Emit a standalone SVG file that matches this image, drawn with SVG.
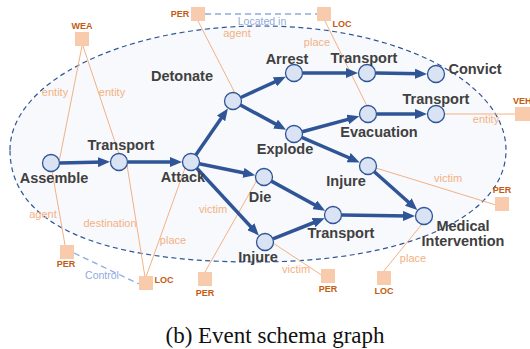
<svg xmlns="http://www.w3.org/2000/svg" width="530" height="349" viewBox="0 0 530 349">
<defs>
<marker id="arr" viewBox="0 0 12 10" refX="6" refY="5" markerWidth="12" markerHeight="10" markerUnits="userSpaceOnUse" orient="auto">
<path d="M0,0 L12,5 L0,10 z" fill="#2f5597"/>
</marker>
<style>
.ev{fill:#dae3f3;stroke:#2f5597;stroke-width:1.3}
.evt{font-family:"Liberation Sans",Arial,sans-serif;font-weight:bold;font-size:14.5px;fill:#404040;text-anchor:middle}
.box{fill:#f8cbad}
.bt{font-family:"Liberation Sans",Arial,sans-serif;font-weight:bold;font-size:9px;fill:#c55a11;text-anchor:middle}
.rl{stroke:#f4b183;stroke-width:1;fill:none}
.rt{font-family:"Liberation Sans",Arial,sans-serif;font-size:11px;fill:#f4b183;text-anchor:middle}
.ar{stroke:#2f5597;stroke-width:3.5;fill:none;marker-end:url(#arr)}
.dl{stroke:#8faadc;stroke-width:1.3;stroke-dasharray:6,4;fill:none}
.dt{font-family:"Liberation Sans",Arial,sans-serif;font-size:10.5px;fill:#8faadc;text-anchor:middle}
</style>
</defs>
<rect width="530" height="349" fill="#ffffff"/>
<path id="schema-boundary" d="M10,150 C10,82 123,26 262,26 C397,26 506,82 506,150 C506,217 406,262 255,262 C96,262 10,223 10,150 Z" fill="#f7f9fc" stroke="#2f5597" stroke-width="1.2" stroke-dasharray="5,3.5"/>
<g id="connectors">
<line class="rl" x1="82" y1="46" x2="59" y2="162"/>
<line class="rl" x1="83" y1="46" x2="119" y2="154"/>
<line class="rl" x1="52" y1="171" x2="65" y2="245"/>
<line class="rl" x1="127" y1="165" x2="145" y2="277"/>
<line class="rl" x1="185" y1="168" x2="146" y2="277"/>
<line class="rl" x1="257" y1="180" x2="205" y2="272"/>
<line class="rl" x1="273" y1="243" x2="323" y2="276"/>
<line class="rl" x1="422" y1="224" x2="383" y2="272"/>
<line class="rl" x1="376" y1="168" x2="496" y2="205"/>
<line class="rl" x1="198" y1="21" x2="236" y2="95"/>
<line class="rl" x1="325" y1="21" x2="367" y2="106"/>
<line class="rl" x1="445" y1="114" x2="515" y2="114"/>
<text class="rt" x="55" y="96">entity</text>
<text class="rt" x="112" y="96">entity</text>
<text class="rt" x="43" y="218">agent</text>
<text class="rt" x="110" y="227">destination</text>
<text class="rt" x="173" y="244">place</text>
<text class="rt" x="213" y="213">victim</text>
<text class="rt" x="296" y="273">victim</text>
<text class="rt" x="413" y="262">place</text>
<text class="rt" x="448" y="182">victim</text>
<text class="rt" x="237" y="37">agent</text>
<text class="rt" x="317" y="46">place</text>
<text class="rt" x="486" y="123">entity</text>
<line class="dl" x1="205" y1="14" x2="317" y2="14"/>
<text class="dt" x="262" y="25">Located in</text>
<line class="dl" x1="74" y1="253" x2="139" y2="284"/>
<text class="dt" x="102" y="279">Control</text>
<line class="ar" x1="60" y1="163" x2="104" y2="162"/>
<line class="ar" x1="128" y1="162" x2="176" y2="162"/>
<line class="ar" x1="195.8" y1="155" x2="224.5" y2="113.4"/>
<line class="ar" x1="240.7" y1="97.5" x2="280.4" y2="79.3"/>
<line class="ar" x1="240.5" y1="105" x2="280.8" y2="126.9"/>
<line class="ar" x1="302.5" y1="73" x2="352" y2="73"/>
<line class="ar" x1="375.5" y1="73.1" x2="421" y2="73.8"/>
<line class="ar" x1="302.2" y1="131.8" x2="353.5" y2="117.9"/>
<line class="ar" x1="301.8" y1="137.4" x2="354.2" y2="160"/>
<line class="ar" x1="376.5" y1="114" x2="421" y2="114"/>
<line class="ar" x1="199.3" y1="163.7" x2="249.3" y2="174"/>
<line class="ar" x1="196.8" y1="168.2" x2="254.8" y2="231"/>
<line class="ar" x1="271.4" y1="181.1" x2="319.9" y2="207.8"/>
<line class="ar" x1="272.9" y1="238.9" x2="319.1" y2="220.5"/>
<line class="ar" x1="341.5" y1="215.1" x2="409" y2="216"/>
<line class="ar" x1="374.3" y1="171.7" x2="412.8" y2="206"/>
</g>
<g id="assemble"><circle class="ev" cx="51" cy="163" r="8.5"/><text class="evt" x="54" y="183">Assemble</text></g>
<g id="transport1"><circle class="ev" cx="119" cy="162" r="8.5"/><text class="evt" x="121" y="150">Transport</text></g>
<g id="attack"><circle class="ev" cx="191" cy="162" r="8.5"/><text class="evt" x="183" y="182">Attack</text></g>
<g id="detonate"><circle class="ev" cx="233" cy="101" r="8.5"/><text class="evt" x="182" y="81">Detonate</text></g>
<g id="arrest"><circle class="ev" cx="294" cy="73" r="8.5"/><text class="evt" x="287" y="64">Arrest</text></g>
<g id="transport2"><circle class="ev" cx="367" cy="73" r="8.5"/><text class="evt" x="364" y="63">Transport</text></g>
<g id="convict"><circle class="ev" cx="436" cy="74" r="8.5"/><text class="evt" x="475" y="74">Convict</text></g>
<g id="explode"><circle class="ev" cx="294" cy="134" r="8.5"/><text class="evt" x="285" y="154">Explode</text></g>
<g id="evacuation"><circle class="ev" cx="368" cy="114" r="8.5"/><text class="evt" x="379" y="137">Evacuation</text></g>
<g id="transport3"><circle class="ev" cx="436" cy="114" r="8.5"/><text class="evt" x="436" y="104">Transport</text></g>
<g id="injure1"><circle class="ev" cx="368" cy="166" r="8.5"/><text class="evt" x="346" y="186">Injure</text></g>
<g id="die"><circle class="ev" cx="264" cy="177" r="8.5"/><text class="evt" x="260" y="202">Die</text></g>
<g id="injure2"><circle class="ev" cx="265" cy="242" r="8.5"/><text class="evt" x="258" y="262">Injure</text></g>
<g id="transport4"><circle class="ev" cx="333" cy="215" r="8.5"/><text class="evt" x="341" y="238">Transport</text></g>
<g id="medical"><circle class="ev" cx="424" cy="216" r="8.5"/><text class="evt" x="463" y="231">Medical</text><text class="evt" x="463" y="246">Intervention</text></g>
<g id="wea"><rect class="box" x="75" y="32" width="14" height="14"/><text class="bt" x="82" y="29">WEA</text></g>
<g id="per-top"><rect class="box" x="191" y="7" width="14" height="14"/><text class="bt" x="180" y="17">PER</text></g>
<g id="loc-top"><rect class="box" x="317" y="7" width="14" height="14"/><text class="bt" x="342" y="27">LOC</text></g>
<g id="veh"><rect class="box" x="515" y="107" width="15" height="14"/><text class="bt" x="513" y="104" style="text-anchor:start">VEH</text></g>
<g id="per-left"><rect class="box" x="60" y="245" width="14" height="14"/><text class="bt" x="66" y="267">PER</text></g>
<g id="loc-left"><rect class="box" x="139" y="276" width="14" height="14"/><text class="bt" x="164" y="283">LOC</text></g>
<g id="per-die"><rect class="box" x="198" y="272" width="14" height="14"/><text class="bt" x="205" y="296">PER</text></g>
<g id="per-injure"><rect class="box" x="321" y="269" width="14" height="14"/><text class="bt" x="328" y="292">PER</text></g>
<g id="loc-medical"><rect class="box" x="377" y="271" width="14" height="14"/><text class="bt" x="384" y="294">LOC</text></g>
<g id="per-right"><rect class="box" x="495" y="197" width="14" height="14"/><text class="bt" x="502" y="193">PER</text></g>
<text x="275" y="343" font-family="'Liberation Serif','Times New Roman',serif" font-size="23" fill="#111111" text-anchor="middle">(b) Event schema graph</text>
</svg>
